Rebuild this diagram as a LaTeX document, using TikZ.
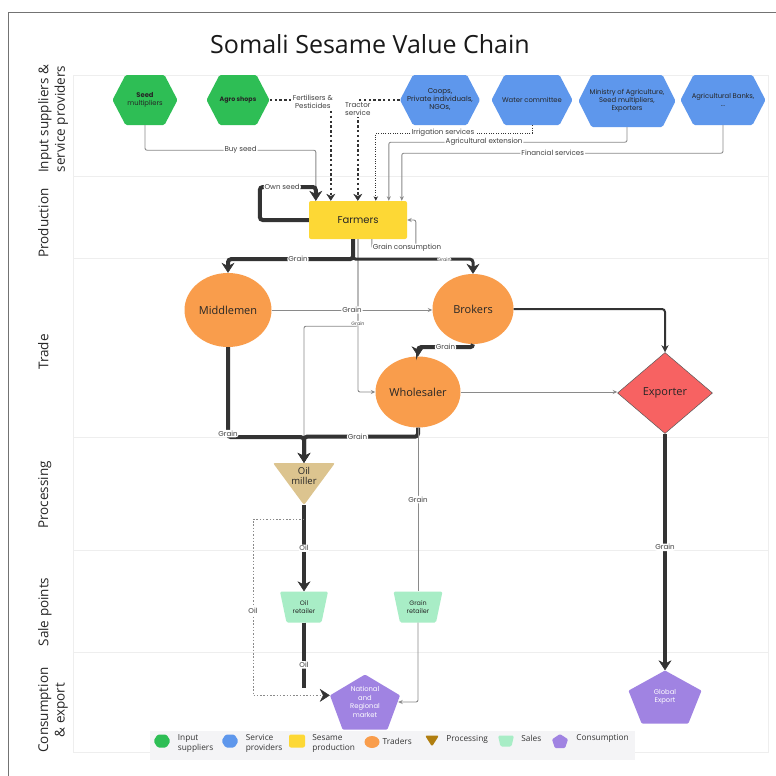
\documentclass[tikz,border=0pt]{standalone}
\usepackage{fontspec}
\setmainfont{Open Sans}
\newfontfamily\popfont{Poppins}
\usetikzlibrary{positioning,arrows.meta,shapes.geometric,calc}

\definecolor{inputgreen}{HTML}{2EBE55}
\definecolor{servblue}{HTML}{5E97EC}
\definecolor{prodyellow}{HTML}{FDD835}
\definecolor{tradeorange}{HTML}{F99D4C}
\definecolor{exportred}{HTML}{F76262}
\definecolor{milltan}{HTML}{DCC48F}
\definecolor{millbrown}{HTML}{B07E10}
\definecolor{salesmint}{HTML}{A8EDC6}
\definecolor{consumpurple}{HTML}{A083E2}
\definecolor{flowdark}{HTML}{333333}
\definecolor{flowgray}{HTML}{8A8A8A}
\definecolor{lanegray}{HTML}{EEEEEE}
\definecolor{legendbg}{HTML}{F4F4F6}

\tikzset{
    cornerinset/.store in=\cornerinset,
    cornerinset=13pt,
    lane/.style={draw=lanegray, line width=0.8pt},
    lanelabel/.style={rotate=90, anchor=north, align=center, inner sep=0pt,
        font=\fontsize{13.5}{16.5}\selectfont, text=black!85},
    hexa/.style={rectangle, inner sep=0pt, align=center, text=black!85,
        font=\popfont\fontsize{6.8}{8}\selectfont,
        path picture={\fill[#1, rounded corners=1.5pt]
            (path picture bounding box.west)
            -- ([xshift=\cornerinset]path picture bounding box.north west)
            -- ([xshift=-\cornerinset]path picture bounding box.north east)
            -- (path picture bounding box.east)
            -- ([xshift=-\cornerinset]path picture bounding box.south east)
            -- ([xshift=\cornerinset]path picture bounding box.south west) -- cycle;}},
    farmbox/.style={rectangle, rounded corners=2pt, fill=prodyellow, minimum width=98pt,
        minimum height=38pt, font=\popfont\fontsize{10}{12}\selectfont, text=black!85},
    trader/.style={ellipse, fill=tradeorange, inner sep=0pt,
        font=\fontsize{11}{13}\selectfont, text=black!85},
    exportshape/.style={diamond, fill=exportred, draw=black!65, line width=0.5pt, inner sep=0pt,
        minimum width=95pt, minimum height=81pt, font=\fontsize{11}{13}\selectfont, text=black!85},
    millshape/.style={rectangle, inner sep=0pt, text=black!85,
        font=\fontsize{9.5}{10.5}\selectfont,
        path picture={\fill[#1, rounded corners=2pt]
            (path picture bounding box.north west)
            -- (path picture bounding box.north east)
            -- (path picture bounding box.south) -- cycle;}},
    saleshape/.style={rectangle, inner sep=0pt, align=center, text=black!85,
        font=\popfont\fontsize{6.4}{7.8}\selectfont,
        path picture={\fill[#1, rounded corners=1.5pt]
            (path picture bounding box.north west)
            -- (path picture bounding box.north east)
            -- ([xshift=-\cornerinset]path picture bounding box.south east)
            -- ([xshift=\cornerinset]path picture bounding box.south west) -- cycle;}},
    pentshape/.style={rectangle, inner sep=0pt, align=center, text=white,
        font=\popfont\fontsize{6.8}{8.7}\selectfont,
        path picture={\fill[#1, rounded corners=1pt]
            (path picture bounding box.north)
            -- ($(path picture bounding box.north east)!0.38!(path picture bounding box.south east)$)
            -- ($(path picture bounding box.south east)!0.18!(path picture bounding box.south west)$)
            -- ($(path picture bounding box.south west)!0.18!(path picture bounding box.south east)$)
            -- ($(path picture bounding box.north west)!0.38!(path picture bounding box.south west)$)
            -- cycle;}},
    thickflow/.style={draw=flowdark, line width=4pt, rounded corners=3pt,
        -{Stealth[length=10pt, width=13pt, line width=0.5pt]}},
    midflow/.style={draw=flowdark, line width=2pt, rounded corners=3pt,
        -{Stealth[length=7pt, width=7pt, line width=0.5pt]}},
    thinflow/.style={draw=flowgray, line width=0.9pt, rounded corners=2pt,
        -{Stealth[length=4.5pt, width=4pt]}},
    dotflow/.style={draw=flowdark, line width=2.4pt, dash pattern=on 2.4pt off 2.4pt,
        -{Stealth[length=7pt, width=9pt, line width=0.5pt]}},
    fineflow/.style={draw=flowdark, line width=0.9pt, dash pattern=on 1pt off 1.4pt,
        -{Stealth[length=4.5pt, width=4.5pt]}},
    oilflow/.style={draw=flowgray, line width=0.9pt, dash pattern=on 1.5pt off 1.8pt,
        -{Stealth[length=10pt, width=13pt, line width=0.5pt, color=flowdark]}},
    elabel/.style={fill=white, inner sep=1pt, align=center, text=black!75,
        font=\popfont\fontsize{7.1}{8.2}\selectfont},
    tinylabel/.style={fill=white, inner sep=0.6pt, text=black!70,
        font=\popfont\fontsize{4.8}{5.2}\selectfont},
    legtext/.style={inner sep=0pt, align=left, text=black!80,
        font=\fontsize{8.3}{10}\selectfont},
}

\begin{document}
\begin{tikzpicture}[x=1pt, y=-1pt]
    \useasboundingbox (0,0) rectangle (776,776);
    \fill[white] (0,0) rectangle (776,776);
    \draw[black!55, line width=1pt] (8,776) -- (8,13) -- (776,13);
    \foreach \ytop/\ybot in {75/176,176/258,258/437,437/550,550/652,652/752}
        \draw[lane] (73,\ytop) rectangle (768,\ybot);
    \foreach \yc/\lanename in {119/{Input suppliers \&\\service providers},223/Production,
        352/Trade,495/Processing,612/Sale points,710/{Consumption\\\& export}}
        \node[lanelabel] (lanetxt\yc) at (38,\yc) {\lanename};

    \node[font=\fontsize{25}{29}\selectfont, text=black!90] (title) at (370,44) {Somali Sesame Value Chain};

    \node[hexa=inputgreen, minimum width=65pt, minimum height=50pt] (seedmult) at (145,100)
        {{\bfseries\fontsize{6.8}{8}\selectfont Seed}\\multipliers};
    \node[hexa=inputgreen, minimum width=63pt, minimum height=50pt, font=\popfont\bfseries\fontsize{6.3}{7.5}\selectfont]
        (agroshop) at (238,100) {Agro shops};
    \node[hexa=servblue, minimum width=80pt, minimum height=50pt, font=\popfont\fontsize{7.1}{8}\selectfont]
        (coops) at (440,100) {Coops,\\Private individuals,\\NGOs,};
    \node[hexa=servblue, minimum width=81pt, minimum height=50pt] (watercom) at (532,100) {Water committee};
    \node[hexa=servblue, minimum width=97pt, minimum height=52pt] (ministry) at (627,101)
        {Ministry of Agriculture,\\Seed multipliers,\\Exporters};
    \node[hexa=servblue, minimum width=85pt, minimum height=50pt] (agribank) at (723,100) {Agricultural Banks,\\...};

    \node[farmbox] (farmers) at (358,220) {Farmers};
    \node[trader, minimum width=87pt, minimum height=74pt] (middlemen) at (228,310) {Middlemen};
    \node[trader, minimum width=81pt, minimum height=70pt] (brokers) at (473,309) {Brokers};
    \node[trader, minimum width=85pt, minimum height=71pt] (wholesaler) at (418,392) {Wholesaler};
    \node[exportshape] (exporter) at (665,393) {Exporter};
    \node[millshape=milltan, minimum width=62pt, minimum height=42pt] (oilmiller) at (304,484)
        {\raisebox{4.5pt}[0pt][0pt]{\begin{tabular}{@{}c@{}}Oil\\miller\end{tabular}}};
    \node[saleshape=salesmint, cornerinset=6.5pt, minimum width=48pt, minimum height=31pt] (oilretail) at (304,607) {Oil\\retailer};
    \node[saleshape=salesmint, cornerinset=6.5pt, minimum width=49pt, minimum height=31pt] (grainretail) at (418,607) {Grain\\retailer};
    \node[pentshape=consumpurple, minimum width=70pt, minimum height=55pt] (market) at (365,702)
        {National\\and\\Regional\\market};
    \node[pentshape=consumpurple, minimum width=73pt, minimum height=53pt] (globalexp) at (665,697) {Global\\Export};

    \coordinate (oilsplit) at ([yshift=-14pt]oilmiller.south);
    \coordinate (marketleft) at ($(market.north west)!0.38!(market.south west)$);
    \coordinate (oilend) at ([yshift=-65pt]oilretail.south);

    \draw[thinflow] (seedmult.south) -- ++(0,25) -| node[elabel, pos=0.28] {Buy seed} ([xshift=7pt]farmers.north west);
    \draw[dotflow] (agroshop.east) -| node[elabel, xshift=-18pt, yshift=-2pt] {Fertilisers \&\\Pesticides} ([xshift=22pt]farmers.north west);
    \draw[dotflow] (coops.west) -| node[elabel, yshift=-9pt] {Tractor\\service} ([xshift=49pt]farmers.north west);
    \draw[fineflow] (watercom.south) -- ++(0,8) -| node[elabel, pos=0.285] {Irrigation services} ([xshift=67pt]farmers.north west);
    \draw[thinflow] (ministry.south) -- ++(0,15) -| node[elabel, pos=0.3] {Agricultural extension} ([xshift=80pt]farmers.north west);
    \draw[thinflow] (agribank.south) -- ++(0,28) -| node[elabel, pos=0.265] {Financial services} ([xshift=93pt]farmers.north west);
    \draw[thickflow] (farmers.west) -- ++(-49,0) -- ++(0,-33) -| node[elabel, pos=0.2] {Own seed} ([xshift=7pt]farmers.north west);
    \draw[thinflow] ([xshift=63pt]farmers.south west) -- ++(0,9) -- node[elabel, pos=0.8] {Grain consumption} ++(44,0) |- (farmers.east);

    \draw[thinflow] (farmers.south) |- (wholesaler.west);
    \draw[thinflow, -] (farmers.south) -- ++(0,87) -| node[tinylabel, pos=0, yshift=3pt] {Grain} (oilmiller.north);
    \draw[thickflow] ([xshift=-5pt]farmers.south) -- ++(0,20) -| node[elabel, pos=0.22] {Grain} (middlemen.north);
    \draw[thickflow, line width=3pt] ([xshift=-5pt]farmers.south) -- ++(0,20) -| node[tinylabel, pos=0.38] {Grain} (brokers.north);
    \draw[thinflow] (middlemen.east) -- node[elabel] {Grain} (middlemen.east -| brokers.west);
    \draw[thickflow] (brokers.south) -- ++(0,3) -| node[elabel, pos=0.25] {Grain} (wholesaler.north);
    \draw[midflow] (brokers.east) -| (exporter.north);
    \draw[thinflow] (wholesaler.east) -- (wholesaler.east -| exporter.west);
    \draw[thickflow] (middlemen.south) -- node[elabel, pos=0.96] {Grain} ++(0,90) -| (oilmiller.north);
    \draw[thickflow] (wholesaler.south) -- ++(0,9) -| node[elabel, pos=0.265] {Grain} (oilmiller.north);
    \draw[thinflow, -] (wholesaler.south) -- node[elabel, pos=0.44] {Grain} (grainretail.north);
    \draw[thinflow] (grainretail.south) |- ([xshift=-2pt]market.east);
    \draw[thickflow] (oilmiller.south) -- node[elabel] {Oil} (oilretail.north);
    \draw[thickflow, -] (oilretail.south) -- node[elabel, pos=0.65] {Oil} (oilend);
    \draw[oilflow] (oilsplit) -- ++(-51,0) |- node[elabel, pos=0.26] {Oil} (marketleft);
    \draw[thickflow] (exporter.south) -- node[elabel, pos=0.48] {Grain} (globalexp.north);

    \fill[legendbg] (150,731) rectangle (635,760);
    \node[hexa=inputgreen, cornerinset=4pt, minimum width=17pt, minimum height=13pt] (leginput) at (162,741) {};
    \node[legtext, right=7pt of leginput.north east, anchor=north west] (leginputtxt) {Input\\suppliers};
    \node[hexa=servblue, cornerinset=4pt, minimum width=17pt, minimum height=13pt] (legservice) at (230,741) {};
    \node[legtext, right=7pt of legservice.north east, anchor=north west] (legservicetxt) {Service\\providers};
    \node[rectangle, rounded corners=2pt, fill=prodyellow, inner sep=0pt, minimum width=16pt, minimum height=13pt] (legprod) at (297,741) {};
    \node[legtext, right=7pt of legprod.north east, anchor=north west] (legprodtxt) {Sesame\\production};
    \node[ellipse, fill=tradeorange, inner sep=0pt, minimum width=15pt, minimum height=12pt] (legtrade) at (372,742) {};
    \node[legtext, right=5pt of legtrade.north east, anchor=north west] (legtradetxt) {Traders};
    \node[millshape=millbrown, minimum width=14pt, minimum height=11pt] (legproc) at (432,741) {};
    \node[legtext, right=7pt of legproc.north east, anchor=north west] (legproctxt) {Processing};
    \node[saleshape=salesmint, cornerinset=2.5pt, minimum width=16pt, minimum height=11pt] (legsales) at (506,741) {};
    \node[legtext, right=7pt of legsales.north east, anchor=north west] (legsalestxt) {Sales};
    \node[pentshape=consumpurple, minimum width=16pt, minimum height=14pt] (legcons) at (560,741) {};
    \node[legtext, right=8pt of legcons.north east, anchor=north west] (legconstxt) {Consumption};
\end{tikzpicture}
\end{document}
